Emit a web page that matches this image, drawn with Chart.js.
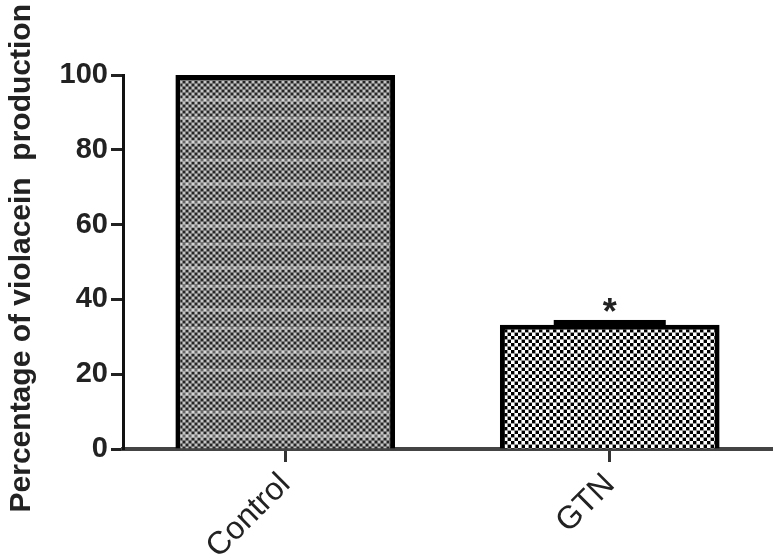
<!DOCTYPE html>
<html>
<head>
<meta charset="utf-8">
<script src="https://cdn.jsdelivr.net/npm/chart.js@4.4.1/dist/chart.umd.min.js"></script>
<style>
  html, body { margin: 0; padding: 0; background: #fff; }
  #wrap { width: 775px; height: 559px; position: relative; }
</style>
</head>
<body>
<div id="wrap"><canvas id="chart"></canvas></div>
<script>
const categories = ["Control", "GTN"];
const values = [100, 33.2];
const errors = [0, 1.3];
const marks = ["", "*"];
const yTicks = [0, 20, 40, 60, 80, 100];
const yTitle = "Percentage of violacein  production";

// grey dither with light bands for control
function controlPattern() {
  const c = document.createElement("canvas");
  c.width = 6; c.height = 42;
  const g = c.getContext("2d");
  g.fillStyle = "#767676";
  g.fillRect(0, 0, 6, 42);
  for (let y = 0; y < 42; y += 6) {
    g.fillStyle = "#262626";
    g.fillRect(0, y, 2, 2);
    g.fillRect(3, y + 3, 2, 2);
    g.fillStyle = "#c4c4c4";
    g.fillRect(3, y, 2, 2);
    g.fillRect(0, y + 3, 2, 2);
  }
  g.fillStyle = "rgba(255,255,255,0.3)";
  g.fillRect(0, 14, 6, 4);
  g.fillRect(0, 33, 6, 3);
  return g.createPattern(c, "repeat");
}

// black and white checks for GTN
function checkPattern() {
  const c = document.createElement("canvas");
  c.width = 7; c.height = 7;
  const g = c.getContext("2d");
  g.fillStyle = "#9a9a9a";
  g.fillRect(0, 0, 7, 7);
  g.fillStyle = "#000";
  g.fillRect(0, 0, 3, 3);
  g.fillRect(4, 4, 3, 3);
  g.fillStyle = "#fff";
  g.fillRect(4, 0, 3, 3);
  g.fillRect(0, 4, 3, 3);
  return g.createPattern(c, "repeat");
}

const extras = {
  id: "extras",
  afterDatasetsDraw(chart) {
    const ctx = chart.ctx;
    const y = chart.scales.y;
    const meta = chart.getDatasetMeta(0);
    ctx.save();
    values.forEach((v, i) => {
      const bar = meta.data[i];
      const top = y.getPixelForValue(v + errors[i]);
      if (errors[i] > 0) {
        const half = bar.width * 0.255;
        ctx.fillStyle = "#000";
        ctx.fillRect(bar.x - half, top, half * 2, y.getPixelForValue(v) - top + 2);
      }
      if (marks[i]) {
        ctx.fillStyle = "#222";
        ctx.font = "bold 36px 'Liberation Sans', Arial, sans-serif";
        ctx.textAlign = "center";
        ctx.textBaseline = "alphabetic";
        ctx.fillText(marks[i], bar.x, top + 4);
      }
    });
    // y title
    ctx.translate(30, 4);
    ctx.rotate(-Math.PI / 2);
    ctx.fillStyle = "#222";
    ctx.font = "bold 30px 'Liberation Sans', Arial, sans-serif";
    ctx.textAlign = "right";
    ctx.textBaseline = "alphabetic";
    ctx.fillText(yTitle, 0, 0);
    ctx.restore();
  }
};

const ctx = document.getElementById("chart");
new Chart(ctx, {
  type: "bar",
  data: {
    labels: categories,
    datasets: [{
      data: values,
      backgroundColor: [controlPattern(), checkPattern()],
      borderColor: "#000",
      borderWidth: 5,
      borderSkipped: "bottom",
      categoryPercentage: 1,
      barPercentage: 0.677
    }]
  },
  options: {
    responsive: true,
    maintainAspectRatio: false,
    animation: false,
    layout: { padding: { top: 75, right: 3, left: 0, bottom: 0 } },
    plugins: { legend: { display: false }, tooltip: { enabled: false } },
    scales: {
      x: {
        grid: { display: true, drawOnChartArea: false, offset: false, tickLength: 13, tickWidth: 3, tickColor: "#333" },
        border: { display: true, color: "#444", width: 4 },
        ticks: {
          color: "#222",
          font: { family: "'Liberation Sans', Arial, sans-serif", size: 32 },
          maxRotation: 45, minRotation: 45, padding: 4
        },
        afterFit(scale) { scale.height = 110; }
      },
      y: {
        min: 0, max: 100,
        afterBuildTicks(scale) { scale.ticks = yTicks.map(v => ({ value: v })); },
        grid: { display: true, drawOnChartArea: false, tickLength: 12, tickWidth: 3, tickColor: "#222" },
        border: { display: true, color: "#111", width: 3 },
        ticks: {
          color: "#222",
          font: { family: "'Liberation Sans', Arial, sans-serif", size: 29, weight: "bold" },
          padding: 3
        },
        afterFit(scale) { scale.width = 123; }
      }
    }
  },
  plugins: [extras]
});
</script>
</body>
</html>
